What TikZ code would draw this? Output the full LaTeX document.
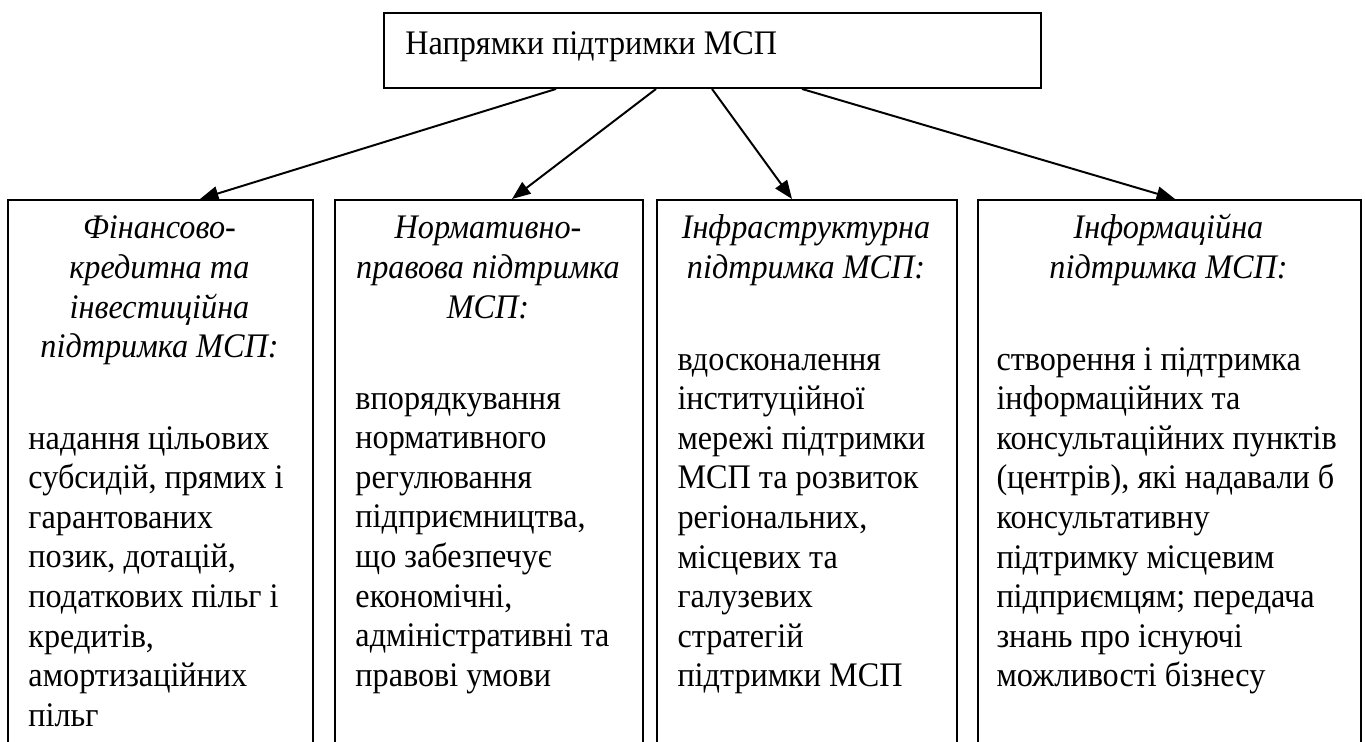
\documentclass[tikz,border=0pt]{standalone}
\usepackage{fontspec}
\setmainfont{Liberation Serif}[FakeStretch=0.935]
\usetikzlibrary{arrows.meta}
\usetikzlibrary{calc}
\newcommand{\pxu}{0.4065pt}
\tikzset{
  frame/.style={draw, line width=0.8pt, inner sep=0pt, anchor=north west},
  arr/.style={line width=0.8pt, -{Triangle[length=7.5pt,width=5.8pt]}},
  txt/.style={inner sep=0pt, anchor=base west},
  head/.style={inner sep=0pt, anchor=base},
}

\begin{document}
\begin{tikzpicture}[x=\pxu, y=-\pxu, font=\fontsize{14}{16.1}\selectfont]
\useasboundingbox (0,0) rectangle (1365,742);
\clip (0,0) rectangle (1365,742);
  \node[frame, minimum width=657*\pxu, minimum height=75*\pxu] (root) at (383, 12) {}; %top
  \node[txt] (title) at (405, 55) {Напрямки підтримки МСП};
  \node[frame, minimum width=305*\pxu, minimum height=561*\pxu] (b1) at (7, 199) {}; %finance
  \node[frame, minimum width=308*\pxu, minimum height=561*\pxu] (b2) at (334, 199) {}; %law
  \node[frame, minimum width=300*\pxu, minimum height=561*\pxu] (b3) at (656, 199) {}; %infra
  \node[frame, minimum width=383*\pxu, minimum height=561*\pxu] (b4) at (977, 199) {}; %info
  \node[head] (h1) at (159.5, 239) {\parbox[t]{120pt}{\centering\itshape Фінансово-\\кредитна та\\інвестиційна\\підтримка МСП:}};
  \node[head] (h2) at (488, 239) {\parbox[t]{120pt}{\centering\itshape Нормативно-\\правова підтримка\\МСП:}};
  \node[head] (h3) at (806, 239) {\parbox[t]{120pt}{\centering\itshape Інфраструктурна\\підтримка МСП:}};
  \node[head] (h4) at (1168.5, 239) {\parbox[t]{150pt}{\centering\itshape Інформаційна\\підтримка МСП:}};
  \node[txt] (t1) at (28, 449) {\parbox[t]{120pt}{\raggedright надання цільових\\субсидій, прямих і\\гарантованих\\позик, дотацій,\\податкових пільг і\\кредитів,\\амортизаційних\\пільг}};
  \node[txt] (t2) at (355, 409) {\parbox[t]{120pt}{\raggedright впорядкування\\нормативного\\регулювання\\підприємництва,\\що забезпечує\\економічні,\\адміністративні та\\правові умови}};
  \node[txt] (t3) at (677, 370) {\parbox[t]{120pt}{\raggedright вдосконалення\\інституційної\\мережі підтримки\\МСП та розвиток\\регіональних,\\місцевих та\\галузевих\\стратегій\\підтримки МСП}};
  \node[txt] (t4) at (996, 370) {\parbox[t]{150pt}{\raggedright створення і підтримка\\інформаційних та\\консультаційних пунктів\\(центрів), які надавали б\\консультативну\\підтримку місцевим\\підприємцям; передача\\знань про існуючі\\можливості бізнесу}};
  \draw[arr] ($(root.south west)+(173,0)$) -- ($(b1.north west)+(193,0)$);
  \draw[arr] ($(root.south west)+(273,0)$) -- ($(b2.north west)+(178,0)$);
  \draw[arr] ($(root.south west)+(329,0)$) -- ($(b3.north west)+(136,0)$);
  \draw[arr] ($(root.south west)+(419,0)$) -- ($(b4.north west)+(198,0)$);
\end{tikzpicture}
\end{document}
